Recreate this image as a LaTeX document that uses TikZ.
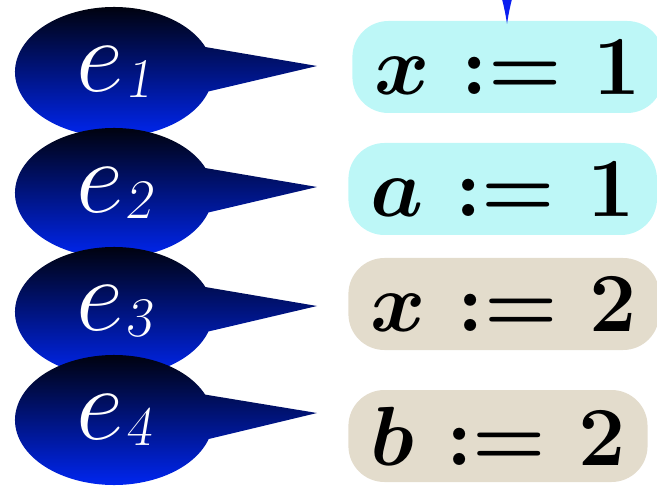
\documentclass[tikz,border=0pt]{standalone}
\usepackage{fix-cm}
\usepackage{amsmath}
\usetikzlibrary{shapes.callouts,arrows.meta}
\definecolor{boxcyan}{RGB}{189,247,247}
\definecolor{boxbeige}{RGB}{227,220,204}
\definecolor{tipblue}{RGB}{10,30,240}
\definecolor{ballblue}{RGB}{0,40,255}
% event name with a slanted subscript
\newcommand\evt[1]{$e$\hspace{1pt}\raisebox{-3pt}{\fontsize{28}{28}\selectfont\slshape #1}}
\begin{document}
\begin{tikzpicture}[x=0.5pt,y=-0.5pt,
  event/.style={ellipse callout,top color=black,bottom color=ballblue,
    minimum width=99pt,minimum height=65pt,inner sep=0pt,text=white,
    callout pointer arc=40,font=\fontsize{52}{60}\selectfont},
  assign/.style={rectangle,rounded corners=18pt,anchor=west,inner xsep=11pt,
    minimum height=46pt,font=\fontsize{42}{50}\selectfont\boldmath},
  mine/.style={assign,fill=boxcyan},
  theirs/.style={assign,fill=boxbeige}]
\clip (0,0) rectangle (657,491);
\useasboundingbox (0,0) rectangle (657,491);
\node[event,callout absolute pointer={(317,66)}] (e1) at (114,72) {\evt{1}};
\node[event,callout absolute pointer={(317,187)}] (e2) at (114,193) {\evt{2}};
\node[event,callout absolute pointer={(317,306)}] (e3) at (114,312) {\evt{3}};
\node[event,callout absolute pointer={(317,413)}] (e4) at (114,420) {\evt{4}};
\node[mine] (w1) at (352,67) {$x \mkern1mu:= \mkern1mu1$};
\node[mine] (w2) at (348,189) {$a \mkern1mu:= \mkern1mu1$};
\node[theirs] (w3) at (348,304) {$x \mkern1mu:= \mkern1mu2$};
\node[theirs] (w4) at (348,436) {$b \mkern1mu:= \mkern1mu2$};
\coordinate (in) at (507,-60);
\draw[tipblue,line width=1pt,-{Latex[length=16pt,width=7pt]},shorten >=-2pt] (in) -- (in |- w1.north);
\end{tikzpicture}
\end{document}
